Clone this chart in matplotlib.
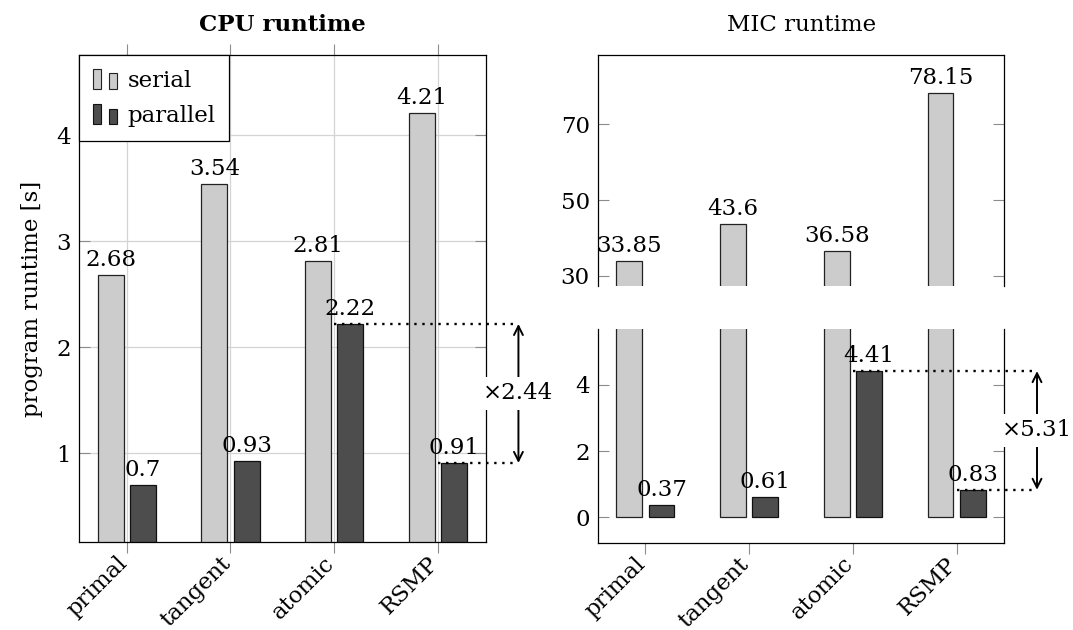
import numpy as np
import matplotlib
matplotlib.use("Agg")
import matplotlib.pyplot as plt
import matplotlib.transforms as mtransforms
from matplotlib.patches import Rectangle
from matplotlib.container import BarContainer
from matplotlib.legend_handler import HandlerBase

categories = ["primal", "tangent", "atomic", "RSMP"]
cpu_serial = [2.68, 3.54, 2.81, 4.21]
cpu_parallel = [0.7, 0.93, 2.22, 0.91]
mic_serial = [33.85, 43.6, 36.58, 78.15]
mic_parallel = [0.37, 0.61, 4.41, 0.83]
series_names = ["serial", "parallel"]

plt.rcParams["font.family"] = ["DejaVu Serif"]
FS = 16.5
SERIAL_C = "#cccccc"
PARALLEL_C = "#4d4d4d"
TICK_C = "#8c8c8c"
GRID_C = "#d4d4d4"
W = 0.25
OFF = 0.155
XLIM = (-0.457, 3.46)
XARROW = 3.775


class PairHandler(HandlerBase):
    """pgfplots-style ybar legend image: two small bars."""
    def create_artists(self, legend, orig_handle, xdescent, ydescent,
                       width, height, fontsize, trans):
        p = orig_handle.patches[0]
        fc, ec = p.get_facecolor(), p.get_edgecolor()
        bw = width * 0.33
        r1 = Rectangle((-xdescent, -ydescent), bw, height, fc=fc, ec=ec,
                       lw=0.8, transform=trans)
        r2 = Rectangle((-xdescent + width - bw, -ydescent), bw, height * 0.77,
                       fc=fc, ec=ec, lw=0.8, transform=trans)
        return [r1, r2]


def draw_bars(ax, serial, parallel):
    x = np.arange(len(categories))
    b1 = ax.bar(x - OFF, serial, W, color=SERIAL_C, edgecolor="#222222",
                linewidth=0.9, label=series_names[0])
    b2 = ax.bar(x + OFF, parallel, W, color=PARALLEL_C, edgecolor="#111111",
                linewidth=0.9, label=series_names[1])
    return b1, b2


def style_axis(ax):
    ax.set_xlim(*XLIM)
    for s in ax.spines.values():
        s.set_linewidth(0.9)
    ax.tick_params(axis="y", direction="in", length=8, width=0.8, color=TICK_C,
                   left=True, right=True, labelsize=FS, pad=6)
    ax.tick_params(axis="x", direction="out", length=8, width=0.8, color=TICK_C,
                   labelsize=FS, pad=5)
    ax.set_xticks(np.arange(len(categories)))


def set_xlabels(ax):
    ax.set_xticklabels(categories, rotation=45, ha="right", va="center",
                       rotation_mode="anchor")
    shift = mtransforms.ScaledTranslation(-3 / 100, 0, fig.dpi_scale_trans)
    for lbl in ax.get_xticklabels():
        lbl.set_transform(lbl.get_transform() + shift)


def speedup(ax, hi_idx, hi, lo_idx, lo):
    dot = dict(color="black", lw=1.7, linestyle=(0, (1, 2.4)), clip_on=False,
               zorder=4)
    ax.plot([hi_idx, XARROW], [hi, hi], **dot)
    ax.plot([lo_idx, XARROW], [lo, lo], **dot)
    ax.annotate("", xy=(XARROW, lo), xytext=(XARROW, hi),
                arrowprops=dict(arrowstyle="<->", lw=1.4, color="black",
                                shrinkA=0, shrinkB=0, mutation_scale=16),
                annotation_clip=False, zorder=4)
    ax.text(XARROW, (hi + lo) / 2, f"×{hi / lo:.2f}", fontsize=FS,
            ha="center", va="center", zorder=6, clip_on=False,
            bbox=dict(boxstyle="square,pad=0.25", fc="white", ec="none"))


fig = plt.figure(figsize=(10.73, 6.3), dpi=100)

# CPU panel
ax1 = fig.add_axes([0.0739, 0.1397, 0.3788, 0.7730])
b1, b2 = draw_bars(ax1, cpu_serial, cpu_parallel)
style_axis(ax1)
ax1.tick_params(axis="x", top=True)
ax1.set_ylim(0.165, 4.755)
ax1.set_yticks([1, 2, 3, 4])
ax1.set_axisbelow(True)
ax1.grid(True, color=GRID_C, lw=0.9)
ax1.bar_label(b1, fmt="{:g}", fontsize=FS, padding=3)
ax1.bar_label(b2, fmt="{:g}", fontsize=FS, padding=3)
set_xlabels(ax1)
ax1.set_title("CPU runtime", fontsize=FS, fontweight="bold", pad=17)
ax1.set_ylabel("program runtime [s]", fontsize=FS)
ax1.yaxis.set_label_coords(-0.09, 0.5)
leg = ax1.legend(handler_map={BarContainer: PairHandler()}, loc="upper left",
                 fontsize=FS, borderaxespad=0, fancybox=False, framealpha=1,
                 edgecolor="black", handlelength=1.05, handleheight=0.95,
                 handletextpad=0.45, borderpad=0.6, labelspacing=0.55)
leg.get_frame().set_linewidth(0.9)
speedup(ax1, 2, cpu_parallel[2], 3, cpu_parallel[3])

# MIC panel, broken y axis
ax2 = fig.add_axes([0.5573, 0.5460, 0.3787, 0.3667])
ax3 = fig.add_axes([0.5573, 0.1386, 0.3787, 0.3392])
for ax in (ax2, ax3):
    draw_bars(ax, mic_serial, mic_parallel)
    style_axis(ax)
ax2.set_ylim(27.28, 88.3)
ax2.set_yticks([30, 50, 70])
ax2.spines["bottom"].set_visible(False)
ax2.tick_params(axis="x", bottom=False, labelbottom=False)
ax3.set_ylim(-0.765, 5.68)
ax3.set_yticks([0, 2, 4])
ax3.spines["top"].set_visible(False)
set_xlabels(ax3)
ax2.bar_label(ax2.containers[0], fmt="{:g}", fontsize=FS, padding=3)
ax3.bar_label(ax3.containers[1], fmt="{:g}", fontsize=FS, padding=3)
ax2.set_title("MIC runtime", fontsize=FS, pad=17)
speedup(ax3, 2, mic_parallel[2], 3, mic_parallel[3])

fig.savefig("out.png", dpi=100)
